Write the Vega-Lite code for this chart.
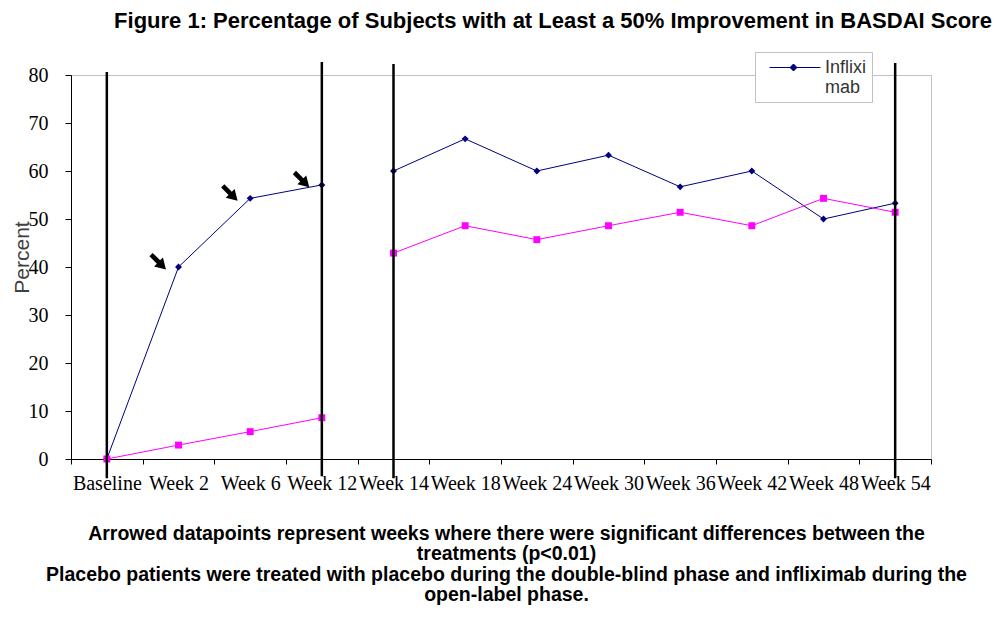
{
  "$schema": "https://vega.github.io/schema/vega-lite/v6.json",
  "width": 860,
  "height": 384,
  "autosize": {"type": "none"},
  "padding": {"left": 71, "top": 75, "right": 67, "bottom": 160},
  "background": "white",
  "config": {
    "view": {"stroke": "#c0c0c0", "strokeWidth": 1}
  },
  "title": {
    "text": "Figure 1: Percentage of Subjects with at Least a 50% Improvement in BASDAI Score",
    "font": "Liberation Sans",
    "fontSize": 22,
    "fontWeight": "bold",
    "color": "#000000",
    "anchor": "middle",
    "frame": "group",
    "dx": 52,
    "offset": 19
  },
  "datasets": {
    "series": [
      {"week": "Baseline", "series": "Infliximab", "phase": "blind", "value": 0},
      {"week": "Week 2", "series": "Infliximab", "phase": "blind", "value": 40},
      {"week": "Week 6", "series": "Infliximab", "phase": "blind", "value": 54.3},
      {"week": "Week 12", "series": "Infliximab", "phase": "blind", "value": 57.1},
      {"week": "Week 14", "series": "Infliximab", "phase": "open", "value": 60},
      {"week": "Week 18", "series": "Infliximab", "phase": "open", "value": 66.7},
      {"week": "Week 24", "series": "Infliximab", "phase": "open", "value": 60},
      {"week": "Week 30", "series": "Infliximab", "phase": "open", "value": 63.3},
      {"week": "Week 36", "series": "Infliximab", "phase": "open", "value": 56.7},
      {"week": "Week 42", "series": "Infliximab", "phase": "open", "value": 60},
      {"week": "Week 48", "series": "Infliximab", "phase": "open", "value": 50},
      {"week": "Week 54", "series": "Infliximab", "phase": "open", "value": 53.3},
      {"week": "Baseline", "series": "Placebo", "phase": "blind", "value": 0},
      {"week": "Week 2", "series": "Placebo", "phase": "blind", "value": 2.9},
      {"week": "Week 6", "series": "Placebo", "phase": "blind", "value": 5.7},
      {"week": "Week 12", "series": "Placebo", "phase": "blind", "value": 8.6},
      {"week": "Week 14", "series": "Placebo", "phase": "open", "value": 42.9},
      {"week": "Week 18", "series": "Placebo", "phase": "open", "value": 48.6},
      {"week": "Week 24", "series": "Placebo", "phase": "open", "value": 45.7},
      {"week": "Week 30", "series": "Placebo", "phase": "open", "value": 48.6},
      {"week": "Week 36", "series": "Placebo", "phase": "open", "value": 51.4},
      {"week": "Week 42", "series": "Placebo", "phase": "open", "value": 48.6},
      {"week": "Week 48", "series": "Placebo", "phase": "open", "value": 54.3},
      {"week": "Week 54", "series": "Placebo", "phase": "open", "value": 51.4}
    ],
    "rules": [
      {"week": "Baseline", "low": -4, "high": 80.6},
      {"week": "Week 12", "low": -3.6, "high": 82.7},
      {"week": "Week 14", "low": -4, "high": 82.3},
      {"week": "Week 54", "low": -4, "high": 82.5}
    ],
    "arrows": [
      {"week": "Week 2", "value": 40},
      {"week": "Week 6", "value": 54.3},
      {"week": "Week 12", "value": 57.1}
    ]
  },
  "encoding": {
    "x": {
      "field": "week",
      "type": "nominal",
      "bandPosition": 0.5,
      "scale": {
        "type": "band",
        "paddingInner": 0,
        "paddingOuter": 0,
        "domain": ["Baseline", "Week 2", "Week 6", "Week 12", "Week 14", "Week 18", "Week 24", "Week 30", "Week 36", "Week 42", "Week 48", "Week 54"]
      },
      "axis": {
        "title": [
          "Arrowed datapoints represent weeks where there were significant differences between the",
          "treatments (p<0.01)",
          "Placebo patients were treated with placebo during the double-blind phase and infliximab during the",
          "open-label phase."
        ],
        "titleFont": "Liberation Sans",
        "titleFontSize": 19.5,
        "titleFontWeight": "bold",
        "titleColor": "#000000",
        "titleLineHeight": 20.5,
        "titleBaseline": "top",
        "titleAlign": "center",
        "titleAnchor": "middle",
        "titleX": 435,
        "titleY": 65,
        "labelAngle": 0,
        "labelFont": "Liberation Serif",
        "labelFontSize": 20,
        "labelColor": "#000000",
        "labelOverlap": false,
        "labelBound": false,
        "labelFlush": false,
        "labelPadding": 9,
        "tickBand": "extent",
        "tickSize": 5,
        "tickColor": "#000000",
        "domainColor": "#000000",
        "grid": false
      }
    }
  },
  "layer": [
    {
      "data": {"name": "series"},
      "mark": {"type": "line", "strokeWidth": 1},
      "encoding": {
        "y": {
          "field": "value",
          "type": "quantitative",
          "scale": {"domain": [0, 80], "nice": false},
          "axis": {
            "values": [0, 10, 20, 30, 40, 50, 60, 70, 80],
            "title": "Percent",
            "titleFont": "Liberation Sans",
            "titleFontSize": 21,
            "titleFontWeight": "normal",
            "titleColor": "#404040",
            "titleAngle": 270,
            "titleBaseline": "alphabetic",
            "titleAlign": "center",
            "titleX": -43,
            "titleY": 182,
            "labelFont": "Liberation Serif",
            "labelFontSize": 20,
            "labelColor": "#000000",
            "labelPadding": 17,
            "tickSize": 6,
            "tickColor": "#000000",
            "domainColor": "#000000",
            "grid": false
          }
        },
        "color": {
          "field": "series",
          "type": "nominal",
          "scale": {"domain": ["Infliximab", "Placebo"], "range": ["#000080", "#FF00FF"]},
          "legend": {
            "values": ["Infliximab"],
            "title": null,
            "orient": "none",
            "legendX": 684,
            "legendY": -23,
            "strokeColor": "#c0c0c0",
            "fillColor": "#ffffff",
            "padding": 5,
            "symbolType": "M-0.1,0H5M1.95,0L2.3,-0.35L2.65,0L2.3,0.35Z",
            "symbolSize": 400,
            "symbolStrokeWidth": 1,
            "symbolFillColor": "#000080",
            "symbolStrokeColor": "#000080",
            "symbolOpacity": 1,
            "labelOffset": 44,
            "labelExpr": "['Inflixi', 'mab']",
            "labelFont": "Liberation Sans",
            "labelFontSize": 18,
            "labelColor": "#333333",
            "labelLineHeight": 21,
            "labelBaseline": "middle"
          }
        },
        "detail": {"field": "phase", "type": "nominal"}
      }
    },
    {
      "data": {"name": "series"},
      "transform": [{"filter": "datum.series === 'Infliximab'"}],
      "mark": {"type": "point", "shape": "diamond", "filled": true, "opacity": 1, "size": 48},
      "encoding": {
        "y": {"field": "value", "type": "quantitative"},
        "color": {"field": "series", "type": "nominal"}
      }
    },
    {
      "data": {"name": "series"},
      "transform": [{"filter": "datum.series === 'Placebo'"}],
      "mark": {"type": "point", "shape": "square", "filled": true, "opacity": 1, "size": 48},
      "encoding": {
        "y": {"field": "value", "type": "quantitative"},
        "color": {"field": "series", "type": "nominal"}
      }
    },
    {
      "data": {"name": "rules"},
      "mark": {"type": "rule", "strokeWidth": 2.5, "color": "#000000"},
      "encoding": {
        "y": {"field": "low", "type": "quantitative"},
        "y2": {"field": "high"}
      }
    },
    {
      "data": {"name": "arrows"},
      "mark": {"type": "point", "shape": "M-0.22,1L0.22,1L0.22,0L0.6,0L0,-1L-0.6,0L-0.22,0Z", "angle": 135, "filled": true, "color": "#000000", "opacity": 1, "size": 441, "xOffset": -20, "yOffset": -5},
      "encoding": {
        "y": {"field": "value", "type": "quantitative"}
      }
    }
  ]
}
